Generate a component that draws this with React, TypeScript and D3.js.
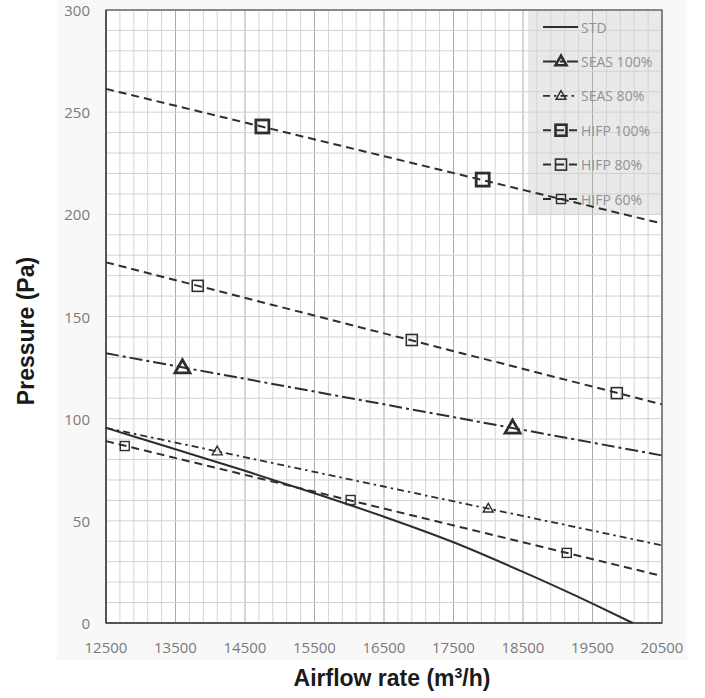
import React from "react";
import * as d3 from "d3";

const xTicks = [12500, 13500, 14500, 15500, 16500, 17500, 18500, 19500, 20500];
const yTicks = [0, 50, 100, 150, 200, 250, 300];

const stdQ = [12500, 13500, 14500, 15500, 16500, 17500, 18500, 19500, 20080];
const stdP = [95.5, 85, 74.5, 63.5, 52, 39.5, 25, 9.5, 0];

const seas100Line = [[12500, 132], [20500, 82]];
const seas100Markers = [[13600, 125], [18350, 95.5]];
const seas80Line = [[12500, 95.5], [20500, 38]];
const seas80Markers = [[14100, 84], [18000, 56]];
const hifp100Line = [[12500, 261.4], [20500, 195.5]];
const hifp100Markers = [[14750, 243], [17920, 217]];
const hifp80Line = [[12500, 176.5], [20500, 107]];
const hifp80Markers = [[13820, 165], [16900, 138.5], [19850, 112.5]];
const hifp60Line = [[12500, 89], [20500, 23]];
const hifp60Markers = [[12770, 86.6], [16020, 60.2], [19130, 34.3]];

const legendNames = ["STD", "SEAS 100%", "SEAS 80%", "HIFP 100%", "HIFP 80%", "HIFP 60%"];

const L = 106, R = 662, T = 10, B = 623;
const LINE = "#2e2e2e";

type Style = { dash: string; sw: number; marker: "none" | "tri" | "sq"; ms: number; msw: number };
const styles: Style[] = [
  { dash: "", sw: 2, marker: "none", ms: 0, msw: 0 },
  { dash: "13 4 3 4", sw: 2, marker: "tri", ms: 15, msw: 2.8 },
  { dash: "7 4 2.5 4", sw: 1.8, marker: "tri", ms: 10, msw: 1.4 },
  { dash: "8 5", sw: 2, marker: "sq", ms: 13, msw: 2.8 },
  { dash: "8 5", sw: 2, marker: "sq", ms: 11, msw: 1.6 },
  { dash: "8 5", sw: 2, marker: "sq", ms: 9, msw: 1.4 },
];

function Marker({ x, y, st }: { x: number; y: number; st: Style }) {
  if (st.marker === "sq") {
    const s = st.ms;
    return <rect x={x - s / 2} y={y - s / 2} width={s} height={s} fill="none" stroke={LINE} strokeWidth={st.msw} />;
  }
  if (st.marker === "tri") {
    const s = st.ms;
    const h = s * 0.87;
    const pts = `${x},${y - h * 0.6} ${x - s / 2},${y + h * 0.4} ${x + s / 2},${y + h * 0.4}`;
    return <polygon points={pts} fill="none" stroke={LINE} strokeWidth={st.msw} strokeLinejoin="miter" />;
  }
  return null;
}

export default function App() {
  const x = d3.scaleLinear().domain([12500, 20500]).range([L, R]);
  const y = d3.scaleLinear().domain([0, 300]).range([B, T]);

  const minorX = d3.range(12500, 20500 + 1, 200);
  const minorY = d3.range(0, 301, 10);

  const lineGen = d3.line<number[]>().x((d) => x(d[0])).y((d) => y(d[1]));
  const stdGen = d3
    .line<number>()
    .x((_, i) => x(stdQ[i]))
    .y((d) => y(d))
    .curve(d3.curveMonotoneX);

  const series = [
    { line: seas100Line, markers: seas100Markers, st: styles[1] },
    { line: seas80Line, markers: seas80Markers, st: styles[2] },
    { line: hifp100Line, markers: hifp100Markers, st: styles[3] },
    { line: hifp80Line, markers: hifp80Markers, st: styles[4] },
    { line: hifp60Line, markers: hifp60Markers, st: styles[5] },
  ];

  const legX = 528, legY = T, legW = R - 528, legH = 205;
  const legRow0 = 27, legStep = 34.4;

  return (
    <svg width={705} height={698} style={{ position: "absolute", left: 0, top: 0 }}>
      <rect x={0} y={0} width={705} height={698} fill="#ffffff" />
      <rect x={57} y={0} width={630} height={660} fill="#f8f8f8" />
      <rect x={L} y={T} width={R - L} height={B - T} fill="#ffffff" />
      <rect x={legX} y={legY} width={legW} height={legH} fill="#e9e9e9" />
      {minorX.map((v) => (
        <line key={"mx" + v} x1={x(v)} x2={x(v)} y1={T} y2={B} stroke={(v - 12500) % 1000 === 0 ? "#aaaaaa" : "#d4d4d4"} strokeWidth={1} />
      ))}
      {minorY.map((v) => (
        <line key={"my" + v} x1={L} x2={R} y1={y(v)} y2={y(v)} stroke="#d2d2d2" strokeWidth={1} />
      ))}
      <rect x={L} y={T} width={R - L} height={B - T} fill="none" stroke="#6a6a6a" strokeWidth={1.5} />
      <line x1={L} x2={L} y1={T} y2={B} stroke="#555" strokeWidth={2} />
      <line x1={L} x2={R} y1={B} y2={B} stroke="#555" strokeWidth={2} />

      <path d={stdGen(stdP) || ""} fill="none" stroke={LINE} strokeWidth={2} />
      {series.map((s, i) => (
        <g key={"s" + i}>
          <path d={lineGen(s.line) || ""} fill="none" stroke={LINE} strokeWidth={s.st.sw} strokeDasharray={s.st.dash} />
          {s.markers.map((m, j) => (
            <Marker key={j} x={x(m[0])} y={y(m[1])} st={s.st} />
          ))}
        </g>
      ))}

      {legendNames.map((name, i) => {
        const st = styles[i];
        const cy = legY + legRow0 - T + i * legStep;
        return (
          <g key={"lg" + i}>
            <line x1={543} x2={578} y1={cy} y2={cy} stroke={LINE} strokeWidth={st.sw} strokeDasharray={st.dash} />
            {st.marker !== "none" && <Marker x={561} y={cy} st={{ ...st, ms: Math.min(st.ms, 11), msw: Math.min(st.msw, 2.6) }} />}
            <text x={581} y={cy} dominantBaseline="central" fontFamily="Open Sans" fontSize={14} fill="#929292">
              {name}
            </text>
          </g>
        );
      })}

      {yTicks.map((v) => (
        <text key={"yt" + v} x={90} y={y(v)} textAnchor="end" dominantBaseline="central" fontFamily="Open Sans" fontSize={15} fill="#7a7a7a">
          {v}
        </text>
      ))}
      {xTicks.map((v) => (
        <text key={"xt" + v} x={x(v)} y={647} textAnchor="middle" dominantBaseline="central" fontFamily="Open Sans" fontSize={15} fill="#7a7a7a">
          {v}
        </text>
      ))}

      <text x={392} y={686} textAnchor="middle" fontFamily="Liberation Sans, Arial, sans-serif" fontWeight="bold" fontSize={23} fill="#1a1a1a">
        Airflow rate (m<tspan dy={-8} fontSize={14}>3</tspan><tspan dy={8}>/h)</tspan>
      </text>
      <text transform="translate(34,331) rotate(-90)" textAnchor="middle" fontFamily="Liberation Sans, Arial, sans-serif" fontWeight="bold" fontSize={23} fill="#1a1a1a">
        Pressure (Pa)
      </text>
    </svg>
  );
}
